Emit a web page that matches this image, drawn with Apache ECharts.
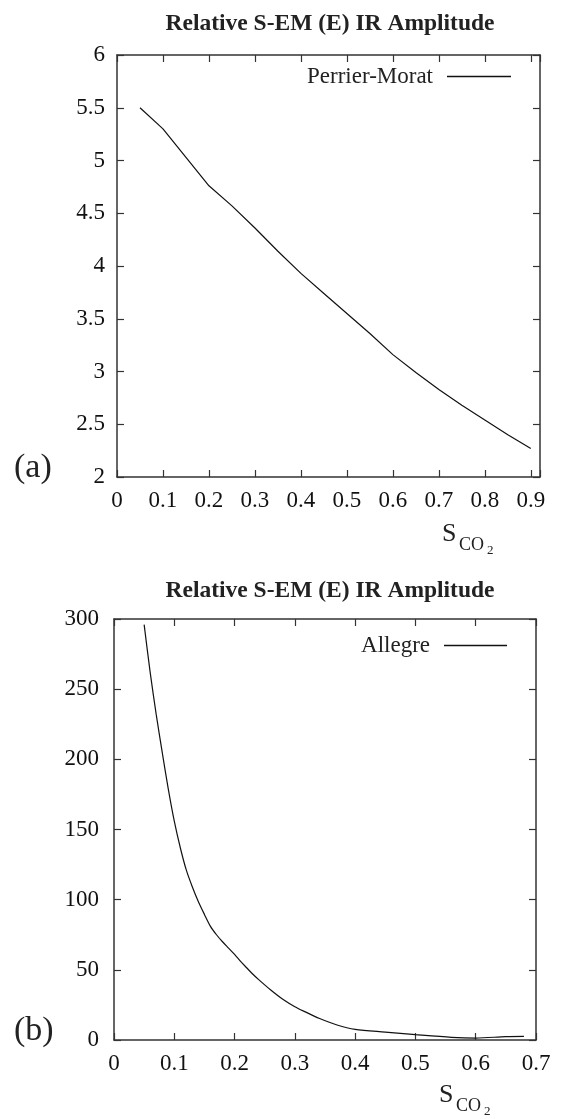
<!DOCTYPE html>
<html><head><meta charset="utf-8">
<script src="https://cdn.jsdelivr.net/npm/echarts@6/dist/echarts.min.js"></script>
<style>html,body{margin:0;padding:0;background:#fff}#c{width:563px;height:1119px}</style>
</head><body><div id="c"></div>
<script>
// Panel (a): Perrier-Morat
const xA = [0.05,0.10,0.15,0.20,0.25,0.30,0.35,0.40,0.45,0.50,0.55,0.60,0.65,0.70,0.75,0.80,0.85,0.90];
const yA = [5.50,5.30,5.03,4.76,4.57,4.36,4.14,3.93,3.74,3.55,3.36,3.16,2.99,2.83,2.68,2.54,2.40,2.27];
// Panel (b): Allegre
const xB = [0.05,0.06,0.07,0.08,0.09,0.10,0.11,0.12,0.13,0.14,0.15,0.16,0.17,0.18,0.19,0.20,0.21,0.22,0.23,0.24,0.26,0.28,0.30,0.32,0.34,0.37,0.40,0.45,0.50,0.56,0.60,0.65,0.68];
const yB = [296,262,232,205,179,156,137,121,109,98.5,89.5,81,75,70,65.5,61,56,51.5,47,43,35.6,29,23.7,19.5,15.5,10.7,7.6,5.6,3.8,1.9,1.4,2.4,2.6];
const titleText = 'Relative S-EM (E) IR Amplitude';
const seriesNames = ['Perrier-Morat','Allegre'];
const panelLabels = ['(a)','(b)'];

const FONT = '"Liberation Serif","Times New Roman",serif';
const AX = '#333';
const pairs = (xs, ys) => xs.map((x,i)=>[x, ys[i]]);

function xAxisCfg(grid, min, max, pos, labels){
  return {type:'value', gridIndex:grid, min:min, max:max, interval:0.1, position:pos,
    axisLine:{show:true, onZero:false, lineStyle:{color:AX, width:1.5}},
    axisTick:{show:true, inside:true, length:7, lineStyle:{color:AX, width:1.2}},
    splitLine:{show:false},
    axisLabel:{show:labels, color:'#111', fontFamily:FONT, fontSize:23, margin:12,
      formatter:v => (Math.abs(v*10-Math.round(v*10))<1e-6 ? String(Math.round(v*10)/10) : '')}};
}
function yAxisCfg(grid, min, max, interval, pos, labels, margin){
  return {type:'value', gridIndex:grid, min:min, max:max, interval:interval, position:pos,
    axisLine:{show:true, onZero:false, lineStyle:{color:AX, width:1.5}},
    axisTick:{show:true, inside:true, length:7, lineStyle:{color:AX, width:1.2}},
    splitLine:{show:false},
    axisLabel:{show:labels, color:'#111', fontFamily:FONT, fontSize:23, margin:margin}};
}
const legendText = {fontFamily:FONT, fontSize:23, color:'#222', lineHeight:20, padding:[0,9,0,0]};

const chart = echarts.init(document.getElementById('c'), null, {renderer:'canvas'});
chart.setOption({
  backgroundColor:'#fff',
  animation:false,
  title:[
    {text:titleText, left:325, textAlign:'center', top:7, textStyle:{fontFamily:FONT, fontWeight:'bold', fontSize:23.5, color:'#222'}},
    {text:titleText, left:325, textAlign:'center', top:574, textStyle:{fontFamily:FONT, fontWeight:'bold', fontSize:23.5, color:'#222'}}
  ],
  grid:[
    {left:117, right:23, top:55, height:422},
    {left:114, right:27, top:619, height:421}
  ],
  legend:[
    {data:[seriesNames[0]], right:52, top:65, padding:0, align:'right', icon:'rect', itemWidth:64, itemHeight:1.3,
     itemStyle:{color:'#111'}, textStyle:legendText},
    {data:[seriesNames[1]], right:56, top:634, padding:0, align:'right', icon:'rect', itemWidth:63, itemHeight:1.3,
     itemStyle:{color:'#111'}, textStyle:legendText}
  ],
  xAxis:[
    xAxisCfg(0, 0, 0.92, 'bottom', true),
    xAxisCfg(1, 0, 0.7, 'bottom', true),
    xAxisCfg(0, 0, 0.92, 'top', false),
    xAxisCfg(1, 0, 0.7, 'top', false)
  ],
  yAxis:[
    yAxisCfg(0, 2, 6, 0.5, 'left', true, 12),
    yAxisCfg(1, 0, 300, 50, 'left', true, 15),
    yAxisCfg(0, 2, 6, 0.5, 'right', false, 12),
    yAxisCfg(1, 0, 300, 50, 'right', false, 15)
  ],
  series:[
    {name:seriesNames[0], type:'line', xAxisIndex:0, yAxisIndex:0, data:pairs(xA,yA), symbol:'none',
     lineStyle:{color:'#111', width:1.2}, itemStyle:{color:'#111'}},
    {name:seriesNames[1], type:'line', xAxisIndex:1, yAxisIndex:1, data:pairs(xB,yB), symbol:'none', smooth:0.3,
     lineStyle:{color:'#111', width:1.2}, itemStyle:{color:'#111'}}
  ],
  graphic:[
    {type:'text', left:14, top:451, style:{text:panelLabels[0], font:'34px '+FONT, fill:'#222'}},
    {type:'text', left:14, top:1014, style:{text:panelLabels[1], font:'34px '+FONT, fill:'#222'}},
    {type:'text', left:442, top:521, style:{text:'S', font:'26px '+FONT, fill:'#222'}},
    {type:'text', left:459, top:536, style:{text:'CO', font:'18px '+FONT, fill:'#222'}},
    {type:'text', left:487, top:544, style:{text:'2', font:'13px '+FONT, fill:'#222'}},
    {type:'text', left:439, top:1082, style:{text:'S', font:'26px '+FONT, fill:'#222'}},
    {type:'text', left:456, top:1097, style:{text:'CO', font:'18px '+FONT, fill:'#222'}},
    {type:'text', left:484, top:1105, style:{text:'2', font:'13px '+FONT, fill:'#222'}}
  ]
});
</script></body></html>
